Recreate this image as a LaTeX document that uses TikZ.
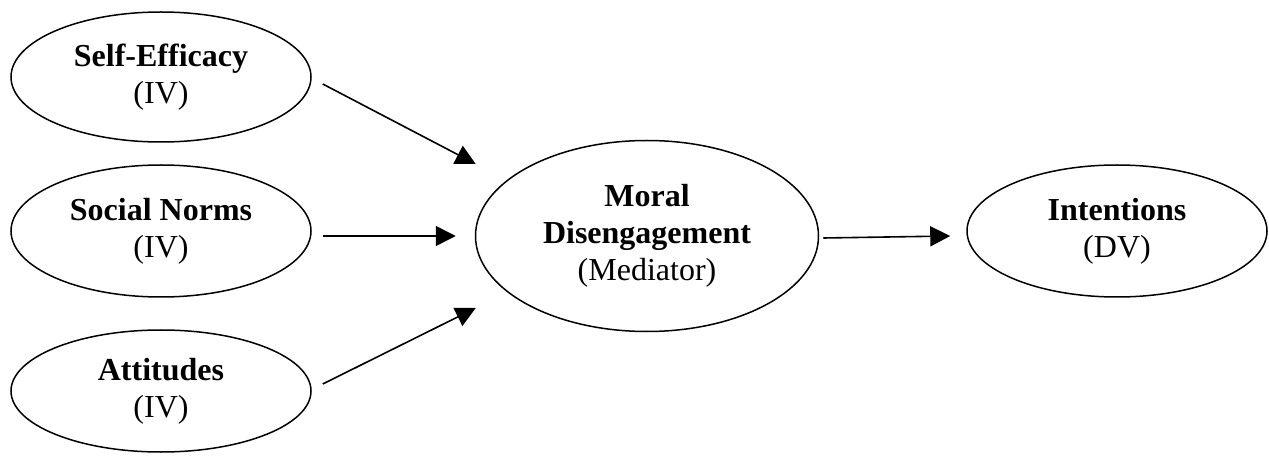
\documentclass[tikz,border=0pt]{standalone}
\usepackage{fontspec}
\setmainfont{Liberation Serif}
\usetikzlibrary{arrows.meta,shapes.geometric}

\tikzset{
  var/.style={draw=black, line width=1.5pt, ellipse, inner sep=0pt,
    minimum width=300pt, minimum height=128pt, align=center,
    font=\fontsize{32}{37}\selectfont},
  medvar/.style={var, minimum width=343pt, minimum height=191pt},
  path arrow/.style={draw=black, line width=1.6pt,
    -{Triangle[length=20pt,width=20pt]}}
}

\begin{document}
\begin{tikzpicture}[x=1pt, y=-1pt]
  \useasboundingbox (0,0) rectangle (1269,462);

  % predictors
  \node[var, minimum height=130pt] (se) at (161,77)  {\textbf{Self-Efficacy}\\(IV)};
  \node[var, minimum height=132pt] (sn) at (161,231) {\textbf{Social Norms}\\(IV)};
  \node[var, minimum height=122pt] (at) at (161,391) {\textbf{Attitudes}\\(IV)};

  % mediator and outcome
  \node[medvar] (md) at (647,236) {\textbf{Moral}\\\textbf{Disengagement}\\(Mediator)};
  \node[var, minimum height=132pt] (it) at (1117,231) {\textbf{Intentions}\\(DV)};

  % paths
  \draw[path arrow] ([shift={(11,7)}]se.east)  -- ([shift={(1,-72)}]md.west);
  \draw[path arrow] ([shift={(11,5)}]sn.east)  -- ([shift={(-19,0)}]md.west);
  \draw[path arrow] ([shift={(11,-7)}]at.east) -- ([shift={(1,72)}]md.west);
  \draw[path arrow] ([shift={(4,2)}]md.east)   -- ([shift={(-16,5)}]it.west);
\end{tikzpicture}
\end{document}
